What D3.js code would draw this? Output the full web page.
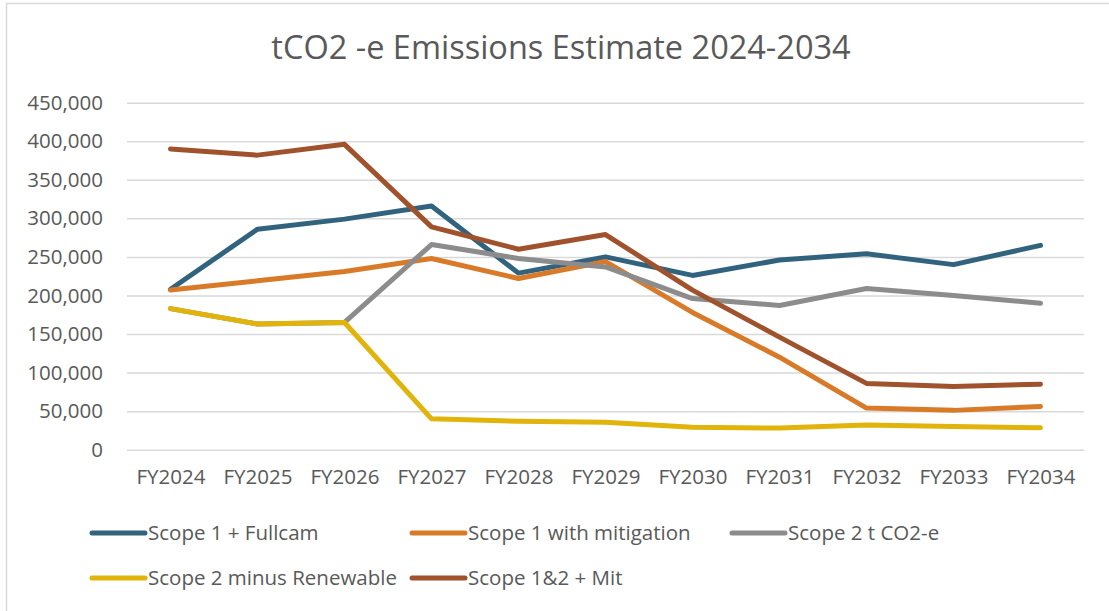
<!DOCTYPE html>
<html>
<head>
<meta charset="utf-8">
<script src="https://cdn.jsdelivr.net/npm/d3@7"></script>
<style>
  body { margin: 0; background: #fff; }
  svg text { font-family: "Open Sans", sans-serif; fill: #595959; }
</style>
</head>
<body>
<svg id="chart" width="1109" height="611"></svg>
<script>
// categories and series values
var years = ["FY2024", "FY2025", "FY2026", "FY2027", "FY2028", "FY2029",
             "FY2030", "FY2031", "FY2032", "FY2033", "FY2034"];
var yTicks = [0, 50000, 100000, 150000, 200000, 250000, 300000, 350000, 400000, 450000];

var scope1Fullcam   = [208000, 286000, 299000, 316000, 229000, 250000, 226000, 246000, 254000, 240000, 265000];
var scope1Mitigated = [207000, 219000, 231000, 248000, 222000, 244000, 178000, 120000, 54000, 51000, 56000];
var scope2          = [183000, 163000, 165000, 266000, 248000, 237000, 196000, 187000, 209000, 200000, 190000];
var scope2MinusRen  = [183000, 163000, 165000, 40000, 37000, 35500, 29000, 28000, 32000, 30000, 28500];
var scope12Mit      = [390000, 382000, 396000, 289000, 260000, 279000, 207000, 146000, 86000, 82000, 85000];

var seriesNames  = ["Scope 1 + Fullcam", "Scope 1 with mitigation", "Scope 2 t CO2-e",
                    "Scope 2 minus Renewable", "Scope 1&2 + Mit"];
var seriesValues = [scope1Fullcam, scope1Mitigated, scope2, scope2MinusRen, scope12Mit];
var seriesColors = ["#31637f", "#d97a29", "#8c8c8c", "#e0b40b", "#a0522d"];

// plot area
var plot = { left: 127, right: 1084, top: 102.7, bottom: 449.7 };
var labelSize = "20.5px";

var svg = d3.select("#chart");

// faint outer border of the chart object
svg.append("rect")
    .attr("x", 6.5).attr("y", 3.5)
    .attr("width", 1200).attr("height", 700)
    .attr("fill", "#fff")
    .attr("stroke", "#d9d9d9")
    .attr("stroke-width", 1.5);

svg.append("text")
    .attr("x", 561).attr("y", 59)
    .attr("text-anchor", "middle")
    .style("font-size", "32.5px")
    .text("tCO2 -e Emissions Estimate 2024-2034");

var x = d3.scalePoint()
    .domain(years)
    .range([plot.left, plot.right])
    .padding(0.5);

var y = d3.scaleLinear()
    .domain([0, 450000])
    .range([plot.bottom, plot.top]);

// y axis with gridlines
var yAxis = svg.append("g")
    .attr("transform", "translate(" + plot.left + ",0)")
    .call(d3.axisLeft(y)
      .tickValues(yTicks)
      .tickSize(-(plot.right - plot.left))
      .tickPadding(24)
      .tickFormat(d3.format(",")));
yAxis.select(".domain").remove();
yAxis.selectAll("line").attr("stroke", "#d9d9d9").attr("stroke-width", 1.5);
yAxis.selectAll("text")
    .attr("fill", "#595959")
    .style("font-size", labelSize)
    .style("font-family", "'Open Sans', sans-serif");

// x axis labels
var xAxis = svg.append("g")
    .attr("transform", "translate(0," + plot.bottom + ")")
    .call(d3.axisBottom(x).tickSize(0).tickPadding(20));
xAxis.select(".domain").remove();
xAxis.selectAll("text")
    .attr("fill", "#595959")
    .style("font-size", labelSize)
    .style("font-family", "'Open Sans', sans-serif");

// lines
var line = d3.line()
    .x(function(d, i) { return x(years[i]); })
    .y(function(d) { return y(d); });

seriesValues.forEach(function(vals, i) {
  svg.append("path")
      .datum(vals)
      .attr("fill", "none")
      .attr("stroke", seriesColors[i])
      .attr("stroke-width", 5)
      .attr("stroke-linejoin", "round")
      .attr("stroke-linecap", "round")
      .attr("d", line);
});

// legend, 3 columns by 2 rows
var legend = svg.append("g");
seriesNames.forEach(function(name, i) {
  var col = i % 3, row = Math.floor(i / 3);
  var lx = 90 + col * 320, ly = 533 + row * 45;
  var item = legend.append("g").attr("transform", "translate(" + lx + "," + ly + ")");
  item.append("line")
      .attr("x1", 2).attr("x2", 55)
      .attr("stroke", seriesColors[i])
      .attr("stroke-width", 5)
      .attr("stroke-linecap", "round");
  item.append("text")
      .attr("x", 58).attr("dy", "0.35em")
      .style("font-size", labelSize)
      .text(name);
});
</script>
</body>
</html>
